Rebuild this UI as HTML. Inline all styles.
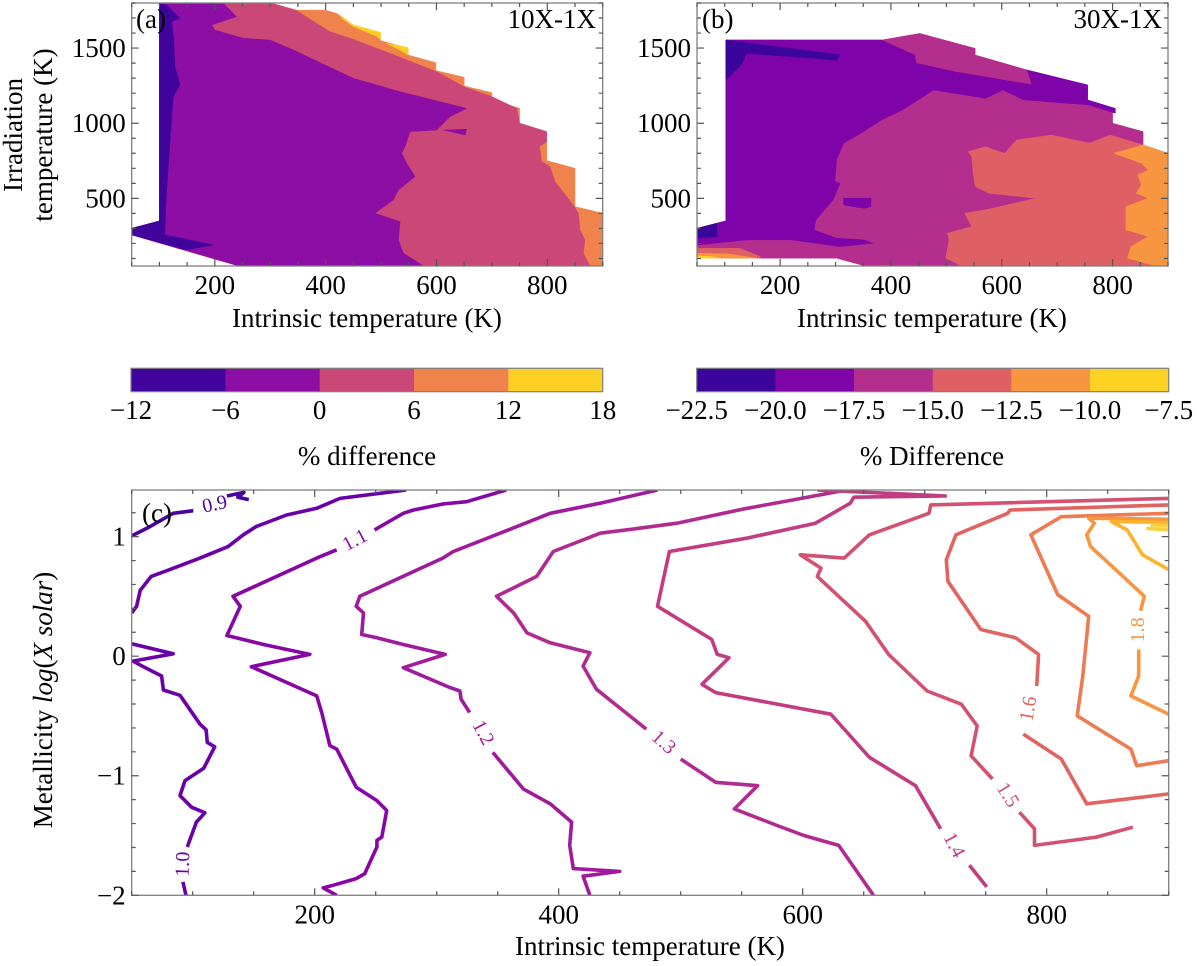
<!DOCTYPE html>
<html><head><meta charset="utf-8"><style>
html,body{margin:0;padding:0;background:#fff;}
svg{display:block;font-family:"Liberation Serif",serif;}
</style></head><body>
<svg id="fig" width="1200" height="966" viewBox="0 0 1200 966" xmlns="http://www.w3.org/2000/svg">
<defs>
<clipPath id="clipA"><rect x="131.7" y="3" width="471" height="263"/></clipPath>
<clipPath id="clipB"><rect x="697" y="3" width="471" height="263"/></clipPath>
<clipPath id="clipC"><rect x="131.7" y="490" width="1037" height="405.3"/></clipPath>
</defs>
<g id="gA"></g>
<g id="gB"></g>
<g id="gC"></g>
<g id="gCB"></g>
<g id="gT">
<text x="0" y="0" font-size="27" text-anchor="middle" transform="translate(22,135) rotate(-90)">Irradiation</text>
<text x="0" y="0" font-size="27" text-anchor="middle" transform="translate(52,135) rotate(-90)">temperature (K)</text>
<text x="367" y="327" font-size="27" text-anchor="middle">Intrinsic temperature (K)</text>
<text x="932" y="327" font-size="27" text-anchor="middle">Intrinsic temperature (K)</text>
<text x="136" y="28" font-size="27">(a)</text>
<text x="596" y="28" font-size="27" text-anchor="end">10X-1X</text>
<text x="702" y="28" font-size="27">(b)</text>
<text x="1162" y="28" font-size="27" text-anchor="end">30X-1X</text>
<text x="367" y="465" font-size="27" text-anchor="middle">% difference</text>
<text x="932" y="465" font-size="27" text-anchor="middle">% Difference</text>
<text x="142" y="522" font-size="27">(c)</text>
<text x="650" y="955" font-size="27" text-anchor="middle">Intrinsic temperature (K)</text>
<text x="0" y="0" font-size="27" text-anchor="middle" transform="translate(52,700) rotate(-90)">Metallicity <tspan font-style="italic">log</tspan>(<tspan font-style="italic">X solar</tspan>)</text>
</g>
</svg>
<script>
// ---------- Panel (a) data: filled regions (Tint, Tirr) ----------
const aHull=[[100,1800],[302,1800],[348,1753],[399,1753],[420,1731],[450,1654],[499,1598],[499,1550],[549,1500],[549,1454],[599,1403],[599,1350],[650,1306],[650,1248],[700,1204],[700,1155],[750,1100],[750,1000],[799,944],[799,751],[850,700],[850,445],[900,401],[900,51],[242,51],[50,257],[50,301],[100,350]];
const aPink=[[100,1798],[302.7,1798],[347.8,1749],[408,1609],[450,1558],[516,1465],[600.5,1343],[651.6,1239],[700,1177],[745,1099],[750,1000],[799,944],[799,878],[786,844],[790,745],[805,711],[814,612],[847,456],[856,401],[859,290],[868,224],[865,135],[877,51],[242,51],[50,257],[50,301],[100,350]];
const aPurple=[[100,1798],[215.4,1798],[239.5,1709],[194.4,1654],[200.4,1620],[251.5,1565],[299.7,1554],[341.8,1487],[450,1299],[534.3,1210],[654.6,1099],[624.6,1044],[600.5,955],[552.4,944],[543.3,844],[537.3,800],[546.3,734],[561.4,645],[531.3,556],[522.3,490],[489.2,401],[534.3,345],[531.3,224],[540.3,135],[576.4,51],[242,51],[50,257],[50,301],[100,350]];
const aPurpleSliver=[[612.5,955],[654.6,960],[651.6,922]];
const aDark=[[100,1798],[113,1787],[137,1698],[122,1676],[126,1554],[128,1377],[137,1255],[125,1177],[120,933],[116,711],[112,490],[110,257],[197.4,190],[149,157],[50,257],[50,301],[100,350]];
const aYellow1=[[426,1720],[450,1654],[499,1605],[499,1554],[492,1580],[450,1643],[429,1698]];
const aYellow2=[[510,1532],[549,1503],[549,1454],[534,1487]];

// ---------- Panel (b) data ----------
const bHull=[[102,1554],[383,1554],[452,1598],[552,1498],[552,1454],[646,1354],[752,1255],[752,1155],[800,1099],[800,1000],[855,944],[855,855],[900,800],[900,51],[352,51],[302,102],[50,102],[50,301],[102,350]];
const bSalmon=[[539.5,811],[570.7,844],[605,800],[627,889],[689.5,922],[758,867],[795.7,922],[855,855],[900,800],[900,51],[527,51],[498.8,102],[505,224],[502,268],[545.7,312],[533,401],[570.7,423],[661.3,501],[577,534],[552,578],[548.8,656],[545.7,778]];
const bOrange=[[855,855],[900,800],[900,51],[877,51],[827,102],[833,179],[864.5,246],[824,290],[824,445],[864.5,501],[842.6,534],[852,589],[845.7,656],[864.5,689],[852,734],[802,800]];
const bPurple=[[102,1554],[383,1554],[442.6,1454],[445.7,1399],[514.5,1343],[655,1255],[645.7,1354],[755,1255],[755,1155],[805,1099],[805,1066],[758,1122],[639.5,1155],[602,1221],[570.7,1166],[477,1221],[420.7,1088],[383,1022],[345.7,933],[314.5,867],[302,756],[298.8,612],[308,600],[295.7,490],[264.5,357],[261.4,290],[302,235],[352,224],[367.6,201],[308,179],[220.7,224],[139.5,224],[50.7,190],[50,301],[102,350]];
const bPurpleIsland=[[314.5,501],[364,501],[364,445],[352,434],[314.5,456]];
const bMagHole1=[[470,1088],[520,1088],[502,1055]];
const bMagHole2=[[593,1088],[612,1088],[605,1077]];
const bDark1=[[102,1554],[308,1454],[302,1421],[139.5,1465],[130,1388],[102,1288]];
const bDark2=[[50,301],[86,334],[86,246],[50,235]];
const bSalmonStrip=[[50.7,168],[127,168],[164,113],[164,102],[50,102]];
const bOrangeStrip=[[50.7,135],[108,130],[158,102],[50,102]];
const bYellowStrip=[[50.7,117],[76,113],[90,102],[50,102]];

// ---------- Panel (c) data: contour levels and their polylines (Tint, log Z) ----------
const cLevels=[0.9,1.0,1.1,1.2,1.3,1.4,1.5,1.6,1.7,1.8,1.9,2.0];
const c09=[[[50,1.006],[65,1.084],[84,1.195],[100.5,1.217]],[[128,1.34],[142,1.37],[137,1.33],[146,1.31]]];
const c10=[[[50,0.362],[54,0.417],[57,0.55],[66,0.667],[81,0.723],[106,0.82],[129,0.917],[141.5,1.015],[152,1.084],[177,1.181],[201.6,1.237],[220.7,1.32],[275,1.39]],
 [[50,0.104],[84,0.02],[51,-0.041],[59.5,-0.088],[74.5,-0.166],[76,-0.283],[89.6,-0.327],[106,-0.569],[111,-0.616],[112,-0.721],[118,-0.758],[109,-0.938],[93.7,-1.041],[89.6,-1.166],[99,-1.263],[110,-1.31],[103,-1.388],[99,-1.499],[95.6,-1.596]],
 [[92,-1.888],[94.5,-2.0]]];
const c11=[[[357,1.39],[324.5,1.292],[305,1.273],[281,1.223],[272.6,1.195],[249,1.056]],
 [[218,0.89],[201.6,0.82],[133,0.501],[139,0.417],[128,0.173],[158,0.098],[196,0.015],[148,-0.088],[201.6,-0.332],[205.7,-0.471],[212.5,-0.749],[218,-0.777],[234,-1.096],[251,-1.208],[259,-1.291],[255,-1.513],[251,-1.541],[251,-1.596],[241,-1.819],[234,-1.86],[215,-1.916],[207,-1.938],[218,-2.0]]];
const c12=[[[481,1.39],[434,1.28],[393,1.195],[352,1.029],[313.6,0.876],[305,0.82],[237,0.501],[234,0.417],[240,0.362],[238.5,0.181],[251,0.154],[272.6,0.098],[307,0.015],[272.6,-0.096],[311,-0.263],[319,-0.291],[320,-0.36],[327,-0.471]],
 [[346,-0.805],[371,-1.11],[393,-1.235],[410.6,-1.388],[409,-1.583],[412,-1.777],[450,-1.80],[420,-1.84],[425.6,-2.0]]];
const c13=[[[635.8,1.39],[591.6,1.306],[550.6,1.229],[497,1.112],[465.5,1.07],[434,1.029],[395.6,0.876],[382,0.667],[349,0.501],[363,0.362],[374,0.195],[393,0.112],[425.6,0.029],[420,-0.083],[431,-0.277],[471.8,-0.61]],
 [[500,-0.86],[528.6,-1.055],[563,-1.083],[544,-1.277],[579,-1.416],[601,-1.5],[629.5,-1.583],[658,-2.0]]];
const c14=[[[612,1.39],[717,1.34],[642,1.33],[639,1.28],[610.5,1.112],[554,0.987],[490.7,0.876],[481,0.417],[525.4,0.14],[530,0.015],[539.6,-0.013],[517.5,-0.235],[528.6,-0.305],[623,-0.485],[654.7,-0.846],[692.5,-1.083],[713,-1.444]],
 [[736.6,-1.749],[750.8,-1.93]]];
const c15=[[[900,1.32],[705,1.265],[703.5,1.195],[654.7,1.015],[634,0.82],[598,0.848],[615,0.737],[612,0.667],[651.5,0.292],[670.4,0.015],[702,-0.291],[730,-0.402],[743,-0.583],[738,-0.833],[755.6,-1.027]],
 [[777.6,-1.305],[790,-1.444],[790,-1.583],[840.7,-1.513],[870.6,-1.43]]];
const c16=[[[900,1.265],[769.8,1.223],[768,1.195],[725.6,1.015],[717.7,0.806],[719,0.626],[746,0.223],[774.5,0.154],[793.4,0.015],[791.8,-0.249]],
 [[780.8,-0.652],[812,-0.86],[832.8,-1.235],[900,-1.152]]];
const c17=[[[900,1.195],[812,1.167],[787,1.015],[809,0.515],[834.4,0.334],[829.6,-0.166],[825,-0.499],[869,-0.777],[873.8,-0.916],[900,-0.874]]];
const c18=[[[900,1.145],[834.4,1.154],[839,1.112],[832.8,1.015],[836,0.917],[859.6,0.695],[880,0.501],[877,0.38]],
 [[875.4,0.056],[875.4,-0.166],[869,-0.332],[900,-0.485]]];
const c19=[[[900,1.118],[853,1.126],[866,1.056],[878.5,0.848],[900,0.723]]];
const c20=[[[881.7,1.07],[900,1.056]],[[885,1.1],[900,1.09]]];
const cLines=[c09,c10,c11,c12,c13,c14,c15,c16,c17,c18,c19,c20];
// label: level index, T, z, angle
const cLabelLevel=[0.9,1.0,1.1,1.2,1.3,1.4,1.5,1.6,1.8];
const cLabelT=[118,92,233,338,486,724,768,785,875];
const cLabelZ=[1.27,-1.74,0.97,-0.64,-0.72,-1.58,-1.16,-0.44,0.22];
const cLabelAngle=[-12,-88,-28,62,42,62,58,-80,-90];

// colorbars
const cbABounds=[-12,-6,0,6,12,18];
const cbBBounds=[-22.5,-20.0,-17.5,-15.0,-12.5,-10.0,-7.5];
const colA=['#40049d','#8d0ea5','#cb4778','#f0834c','#fccf25'];
const colB=['#3b049a','#7e03a8','#b42e8d','#de6065','#f89540','#fcd225'];
const lineCols=['#4c02a1','#6a00a8','#8707a6','#a01a9c','#b12a90','#c23c81','#d35171','#e16462','#ee7b51','#f89540','#fdb32f','#f7d13d'];

const NS='http://www.w3.org/2000/svg';
function el(tag,parent){const e=document.createElementNS(NS,tag);parent.appendChild(e);return e;}
function mkScale(x0,x1,a,b){return v=>x0+(v-a)/(b-a)*(x1-x0);}
const A={x:mkScale(131.7,602.7,50,900),y:mkScale(266,3,50,1800),x0:131.7,x1:602.7,y0:3,y1:266};
const B={x:mkScale(697,1168,50,900),y:mkScale(266,3,50,1800),x0:697,x1:1168,y0:3,y1:266};
const C={x:mkScale(131.7,1168.7,50,900),y:mkScale(895.3,490,-2,1.39),x0:131.7,x1:1168.7,y0:490,y1:895.3};

function poly(g,P,pts,fill,name){
  const p=el('polygon',g);
  p.setAttribute('points',pts.map(q=>P.x(q[0]).toFixed(1)+','+P.y(q[1]).toFixed(1)).join(' '));
  p.setAttribute('fill',fill);p.setAttribute('stroke',fill);p.setAttribute('stroke-width','0.5');
  
  
}
const gA=document.getElementById('gA'),gB=document.getElementById('gB'),gC=document.getElementById('gC');
const fa=el('g',gA);fa.setAttribute('clip-path','url(#clipA)');
poly(fa,A,aHull,colA[3],'region-6-to-12');
poly(fa,A,aPink,colA[2],'region-0-to-6');
poly(fa,A,aPurple,colA[1],'region-minus6-to-0');
poly(fa,A,aPurpleSliver,colA[1],'region-minus6-to-0-sliver');
poly(fa,A,aDark,colA[0],'region-minus12-to-minus6');
poly(fa,A,aYellow1,colA[4],'region-12-to-18');
poly(fa,A,aYellow2,colA[4],'region-12-to-18-b');

const fb=el('g',gB);fb.setAttribute('clip-path','url(#clipB)');
poly(fb,B,bHull,colB[2],'region-minus17.5-to-minus15');
poly(fb,B,bSalmon,colB[3],'region-minus15-to-minus12.5');
poly(fb,B,bOrange,colB[4],'region-minus12.5-to-minus10');
poly(fb,B,bPurple,colB[1],'region-minus20-to-minus17.5');
poly(fb,B,bPurpleIsland,colB[1],'region-minus20-island');
poly(fb,B,bMagHole1,colB[2],'region-magenta-hole');
poly(fb,B,bMagHole2,colB[2],'region-magenta-hole-b');
poly(fb,B,bDark1,colB[0],'region-minus22.5-to-minus20');
poly(fb,B,bDark2,colB[0],'region-minus22.5-to-minus20-b');
poly(fb,B,bSalmonStrip,colB[3],'region-salmon-strip');
poly(fb,B,bOrangeStrip,colB[4],'region-orange-strip');
poly(fb,B,bYellowStrip,colB[5],'region-yellow-strip');

// contours
const fc=el('g',gC);fc.setAttribute('clip-path','url(#clipC)');
cLines.forEach((segs,i)=>{
  segs.forEach(s=>{
    const p=el('polyline',fc);
    p.setAttribute('points',s.map(q=>C.x(q[0]).toFixed(1)+','+C.y(q[1]).toFixed(1)).join(' '));
    p.setAttribute('fill','none');p.setAttribute('stroke',lineCols[i]);
    p.setAttribute('stroke-width','3.6');p.setAttribute('stroke-linejoin','round');
    
    
  });
});
cLabelLevel.forEach((lv,i)=>{
  const t=el('text',fc);
  const x=C.x(cLabelT[i]),y=C.y(cLabelZ[i]);
  t.setAttribute('x',0);t.setAttribute('y',0);
  t.setAttribute('transform','translate('+x.toFixed(1)+','+y.toFixed(1)+') rotate('+cLabelAngle[i]+')');
  t.setAttribute('text-anchor','middle');t.setAttribute('dominant-baseline','central');
  t.setAttribute('font-size','20');
  t.setAttribute('fill',lineCols[cLevels.indexOf(lv)]);
  t.textContent=lv.toFixed(1);
  
  
});

// axes
function axes(g,P,xt,xmin,xmax,xminor,yt,ymin,ymax,yminor,ylabels,prefix){
  const r=el('rect',g);
  r.setAttribute('x',P.x0);r.setAttribute('y',P.y0);r.setAttribute('width',P.x1-P.x0);r.setAttribute('height',P.y1-P.y0);
  r.setAttribute('fill','none');r.setAttribute('stroke','#808080');r.setAttribute('stroke-width','1.3');
  
  
  const tk=el('path',g);let d='';
  for(let v=Math.ceil(xmin/xminor)*xminor;v<=xmax+1e-9;v+=xminor){
    const x=P.x(v);const major=xt.some(t=>Math.abs(t-v)<1e-6);const L=major?7:4;
    d+=`M${x},${P.y1}v${-L}M${x},${P.y0}v${L}`;
  }
  for(let v=Math.ceil(ymin/yminor-1e-9)*yminor;v<=ymax+1e-9;v+=yminor){
    const y=P.y(v);const major=yt.some(t=>Math.abs(t-v)<1e-6);const L=major?7:4;
    d+=`M${P.x0},${y}h${L}M${P.x1},${y}h${-L}`;
  }
  tk.setAttribute('d',d);tk.setAttribute('stroke','#555');tk.setAttribute('stroke-width','1.2');
  
  
  xt.forEach(v=>{const t=el('text',g);t.setAttribute('x',P.x(v));t.setAttribute('y',P.y1+28);
    t.setAttribute('text-anchor','middle');t.setAttribute('font-size','27');t.textContent=v;
    
    });
  yt.forEach((v,i)=>{const t=el('text',g);t.setAttribute('x',P.x0-6);t.setAttribute('y',P.y(v)+9);
    t.setAttribute('text-anchor','end');t.setAttribute('font-size','27');t.textContent=ylabels[i];
    
    });
}
const xTicks=[200,400,600,800];
const yTicksAB=[500,1000,1500];
const yTicksC=[-2,-1,0,1];
axes(gA,A,xTicks,50,900,50,yTicksAB,50,1800,100,['500','1000','1500'],'panel-a');
axes(gB,B,xTicks,50,900,50,yTicksAB,50,1800,100,['500','1000','1500'],'panel-b');
axes(gC,C,xTicks,50,900,50,yTicksC,-2,1.39,0.2,['\u22122','\u22121','0','1'],'panel-c');

// colorbars
const gCB=document.getElementById('gCB');
function cbar(x0,x1,bounds,cols,prefix,fmt){
  const s=mkScale(x0,x1,bounds[0],bounds[bounds.length-1]);
  for(let i=0;i<cols.length;i++){
    const r=el('rect',gCB);
    r.setAttribute('x',s(bounds[i]));r.setAttribute('y',368.3);
    r.setAttribute('width',s(bounds[i+1])-s(bounds[i])+0.5);r.setAttribute('height',23.4);
    r.setAttribute('fill',cols[i]);
    
    
  }
  const f=el('rect',gCB);
  f.setAttribute('x',x0);f.setAttribute('y',368.3);f.setAttribute('width',x1-x0);f.setAttribute('height',23.4);
  f.setAttribute('fill','none');f.setAttribute('stroke','#808080');f.setAttribute('stroke-width','1.2');
  
  
  bounds.forEach(b=>{
    const t=el('text',gCB);t.setAttribute('x',s(b));t.setAttribute('y',419);
    t.setAttribute('text-anchor','middle');t.setAttribute('font-size','27');
    t.textContent=fmt(b);
    
    
  });
}
cbar(131,602.7,cbABounds,colA,'colorbar-a',v=>(v<0?'\u2212':'')+Math.abs(v));
cbar(696.7,1168.7,cbBBounds,colB,'colorbar-b',v=>'\u2212'+Math.abs(v).toFixed(1));
</script>
</body></html>
